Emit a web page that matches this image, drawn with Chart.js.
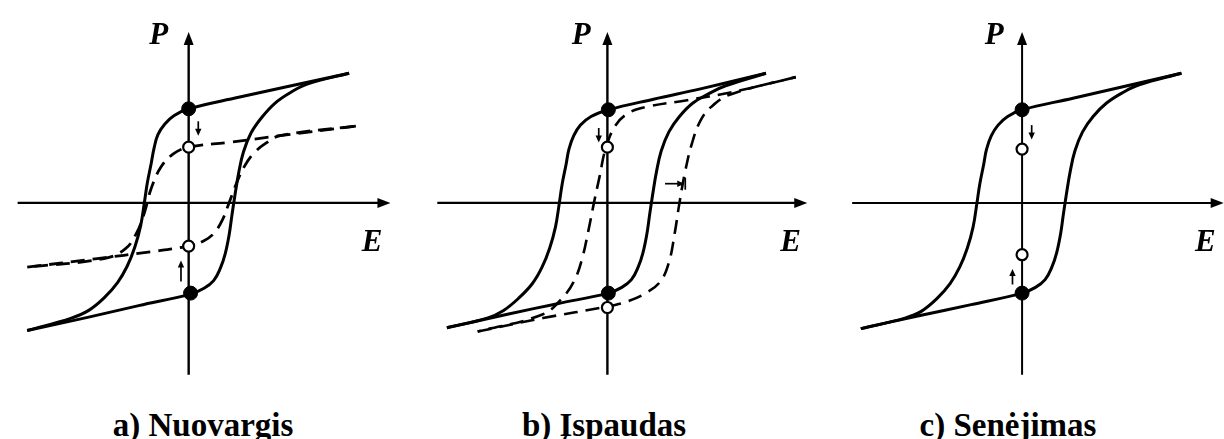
<!DOCTYPE html>
<html>
<head>
<meta charset="utf-8">
<script src="https://cdn.jsdelivr.net/npm/chart.js@4"></script>
<style>
  html, body { margin: 0; padding: 0; background: #fff; }
  #wrap { position: relative; width: 1224px; height: 439px; overflow: hidden; }
  #wrap canvas { position: absolute; top: 0; }
  .cap { position: absolute; top: 407px; line-height: 33px; font: bold 33px "Liberation Serif", "Times New Roman", serif; color: #000; white-space: nowrap; transform: translateX(-50%); }
</style>
</head>
<body>
<div id="wrap">
  <canvas id="pa" width="410" height="400" style="left:0px"></canvas>
  <canvas id="pb" width="410" height="400" style="left:412px"></canvas>
  <canvas id="pc" width="400" height="400" style="left:824px"></canvas>
  <div class="cap" id="cap-a" style="left:203px"></div>
  <div class="cap" id="cap-b" style="left:604px"></div>
  <div class="cap" id="cap-c" style="left:1008px"></div>
</div>
<script>
// P-E loops, [E, P] pairs; upper branches run from +E to -E, lower ones back
const captions = ['a) Nuovargis', 'b) Įspaudas', 'c) Senėjimas'];

// a) fatigue: original loop (solid) and the flattened loop (dashed)
const aSolidUpper = [[1.67,1.35],[1.02,1.21],[0.52,1.10],[0.00,0.98],[-0.15,0.91],[-0.25,0.82],[-0.32,0.71],[-0.36,0.57],[-0.39,0.41],[-0.43,0.21],[-0.46,0.01],[-0.50,-0.24],[-0.56,-0.46],[-0.64,-0.66],[-0.74,-0.83],[-0.88,-0.99],[-1.04,-1.12],[-1.22,-1.20],[-1.68,-1.33]];
const aSolidLower = [[-1.68,-1.33],[-1.04,-1.19],[-0.52,-1.07],[0.02,-0.95],[0.16,-0.89],[0.26,-0.81],[0.33,-0.68],[0.38,-0.53],[0.42,-0.34],[0.45,-0.13],[0.48,0.07],[0.52,0.31],[0.57,0.53],[0.65,0.73],[0.76,0.89],[0.90,1.04],[1.06,1.15],[1.24,1.24],[1.67,1.35]];
const aDashUpper = [[1.74,0.80],[0.95,0.70],[0.42,0.63],[0.00,0.58],[-0.16,0.51],[-0.29,0.37],[-0.39,0.15],[-0.46,-0.10],[-0.54,-0.31],[-0.66,-0.48],[-0.88,-0.58],[-1.68,-0.67]];
const aDashLower = [[-1.68,-0.67],[-0.95,-0.58],[-0.40,-0.51],[0.00,-0.45],[0.15,-0.40],[0.26,-0.32],[0.35,-0.18],[0.42,0.00],[0.50,0.21],[0.58,0.38],[0.68,0.52],[0.80,0.62],[0.95,0.70],[1.74,0.80]];
const aFilled = [[0.00,0.98],[0.02,-0.94]];
const aOpen = [[0.00,0.58],[0.00,-0.45]];

// b) imprint: loop shifted along E
const bSolidUpper = [[1.65,1.35],[0.98,1.19],[0.48,1.08],[0.01,0.97],[-0.17,0.90],[-0.28,0.81],[-0.35,0.70],[-0.40,0.56],[-0.43,0.40],[-0.47,0.20],[-0.50,0.00],[-0.54,-0.25],[-0.60,-0.47],[-0.68,-0.67],[-0.78,-0.84],[-0.92,-0.99],[-1.08,-1.12],[-1.25,-1.20],[-1.67,-1.30]];
const bSolidLower = [[-1.67,-1.30],[-1.04,-1.16],[-0.52,-1.05],[0.01,-0.94],[0.15,-0.88],[0.25,-0.80],[0.32,-0.67],[0.37,-0.52],[0.41,-0.33],[0.44,-0.12],[0.47,0.08],[0.51,0.32],[0.56,0.54],[0.64,0.74],[0.75,0.90],[0.89,1.04],[1.06,1.14],[1.23,1.22],[1.65,1.35]];
const bDashUpper = [[1.96,1.31],[1.28,1.15],[0.83,1.07],[0.41,1.00],[0.21,0.93],[0.08,0.80],[-0.02,0.56],[-0.08,0.28],[-0.14,0.00],[-0.20,-0.30],[-0.26,-0.57],[-0.34,-0.80],[-0.46,-0.98],[-0.67,-1.16],[-1.35,-1.34]];
const bDashLower = [[-1.35,-1.34],[-0.67,-1.20],[0.00,-1.08],[0.20,-1.03],[0.40,-0.94],[0.55,-0.82],[0.64,-0.62],[0.70,-0.32],[0.75,0.00],[0.81,0.33],[0.88,0.62],[0.97,0.86],[1.08,1.00],[1.28,1.13],[1.96,1.31]];
const bFilled = [[0.01,0.97],[0.01,-0.94]];
const bOpen = [[0.00,0.58],[0.00,-1.09]];

// c) aging: single loop, remanence points move inwards
const cSolidUpper = [[1.66,1.35],[1.05,1.21],[0.53,1.09],[0.00,0.97],[-0.15,0.90],[-0.25,0.81],[-0.32,0.70],[-0.37,0.56],[-0.40,0.40],[-0.44,0.20],[-0.47,0.00],[-0.51,-0.25],[-0.57,-0.47],[-0.65,-0.67],[-0.75,-0.84],[-0.89,-1.00],[-1.05,-1.13],[-1.22,-1.20],[-1.68,-1.31]];
const cSolidLower = [[-1.68,-1.31],[-1.05,-1.17],[-0.53,-1.06],[0.00,-0.94],[0.14,-0.88],[0.24,-0.80],[0.31,-0.67],[0.36,-0.52],[0.40,-0.33],[0.43,-0.12],[0.46,0.08],[0.50,0.32],[0.55,0.54],[0.63,0.74],[0.74,0.90],[0.88,1.04],[1.05,1.15],[1.22,1.23],[1.66,1.35]];
const cFilled = [[0.00,0.97],[0.00,-0.94]];
const cOpen = [[0.00,0.56],[0.00,-0.54]];

// small pointers: [E, P] start -> end
const aArrows = [{ from: [0.10,0.85], to: [0.10,0.70] }, { from: [-0.08,-0.82], to: [-0.08,-0.60] }];
const bArrows = [{ from: [-0.09,0.78], to: [-0.09,0.63] }, { from: [0.60,0.20], to: [0.80,0.20], bar: true }];
const cArrows = [{ from: [0.10,0.81], to: [0.10,0.66] }, { from: [-0.10,-0.85], to: [-0.10,-0.69] }];

const PX = 100; // pixels per unit

const panels = [
    { id: 'pa', left: 0, width: 410, ox: 188, oy: 203, solid: [aSolidUpper, aSolidLower], dashed: [aDashUpper, aDashLower], filled: aFilled, open: aOpen, arrows: aArrows, eAxis: [-1.78, 2.10], pAxis: [-1.79, 1.78], pLabel: [-0.41, 1.66], axisW: 2.4, dashW: 2.8 },
    { id: 'pb', left: 412, width: 410, ox: 607, oy: 203, solid: [bSolidUpper, bSolidLower], dashed: [bDashUpper, bDashLower], filled: bFilled, open: bOpen, arrows: bArrows, eAxis: [-1.77, 2.08], pAxis: [-1.79, 1.78], pLabel: [-0.37, 1.66], axisW: 2.4, dashW: 2.6 },
    { id: 'pc', left: 824, width: 400, ox: 1022, oy: 203, solid: [cSolidUpper, cSolidLower], dashed: [], filled: cFilled, open: cOpen, arrows: cArrows, eAxis: [-1.77, 2.10], pAxis: [-1.79, 1.78], pLabel: [-0.39, 1.66], axisW: 2.0, dashW: 2.6 }
];

const toXY = arr => arr.map(([x, y]) => ({ x, y }));

function head(ctx, tx, ty, ang, len, half) {
    const c = Math.cos(ang), s = Math.sin(ang);
    ctx.beginPath();
    ctx.moveTo(tx, ty);
    ctx.lineTo(tx - len * c + half * s, ty - len * s - half * c);
    ctx.lineTo(tx - len * c - half * s, ty - len * s + half * c);
    ctx.closePath();
    ctx.fill();
}

const axesPlugin = {
    id: 'peAxes',
    beforeDatasetsDraw(chart, args, opts) {
        const p = opts.panel;
        const { ctx, scales: { x, y } } = chart;
        const x0 = x.getPixelForValue(0), y0 = y.getPixelForValue(0);
        const xl = x.getPixelForValue(p.eAxis[0]), xr = x.getPixelForValue(p.eAxis[1]);
        const yb = y.getPixelForValue(p.pAxis[0]), yt = y.getPixelForValue(p.pAxis[1]);
        ctx.save();
        ctx.strokeStyle = '#000';
        ctx.fillStyle = '#000';
        ctx.lineWidth = p.axisW;
        ctx.beginPath();
        ctx.moveTo(xl, y0); ctx.lineTo(xr - 10, y0);
        ctx.moveTo(x0, yb); ctx.lineTo(x0, yt + 10);
        ctx.stroke();
        head(ctx, xr, y0, 0, 13, 5);
        head(ctx, x0, yt, -Math.PI / 2, 13, 5);
        ctx.restore();
    },
    afterDatasetsDraw(chart, args, opts) {
        const p = opts.panel;
        const { ctx, scales: { x, y } } = chart;
        ctx.save();
        ctx.strokeStyle = '#000';
        ctx.fillStyle = '#000';
        ctx.lineWidth = 1.7;
        p.arrows.forEach(a => {
            const x1 = x.getPixelForValue(a.from[0]), y1 = y.getPixelForValue(a.from[1]);
            const x2 = x.getPixelForValue(a.to[0]), y2 = y.getPixelForValue(a.to[1]);
            const ang = Math.atan2(y2 - y1, x2 - x1);
            ctx.beginPath();
            ctx.moveTo(x1, y1);
            ctx.lineTo(x2 - 6 * Math.cos(ang), y2 - 6 * Math.sin(ang));
            ctx.stroke();
            head(ctx, x2, y2, ang, 7, 3.2);
            if (a.bar) {
                ctx.beginPath();
                ctx.moveTo(x2 + 1, y2 - 6); ctx.lineTo(x2 + 1, y2 + 6);
                ctx.stroke();
            }
        });
        // axis letters
        ctx.font = 'italic bold 31px "Liberation Serif", "Times New Roman", serif';
        ctx.textBaseline = 'alphabetic';
        ctx.textAlign = 'left';
        ctx.fillText('P', x.getPixelForValue(p.pLabel[0]), y.getPixelForValue(p.pLabel[1]));
        ctx.fillText('E', x.getPixelForValue(1.80), y.getPixelForValue(-0.50));
        ctx.restore();
    }
};

function makePanel(p) {
    const canvas = document.getElementById(p.id);
    const h = canvas.height;
    const datasets = [
        { data: toXY(p.filled), showLine: false, pointRadius: 7, pointBackgroundColor: '#000', pointBorderColor: '#000', pointBorderWidth: 1, order: 0 },
        { data: toXY(p.open), showLine: false, pointRadius: 5.5, pointBackgroundColor: '#fff', pointBorderColor: '#000', pointBorderWidth: 2.2, order: 0 }
    ];
    p.solid.forEach(d => datasets.push({ data: toXY(d), showLine: true, borderColor: '#000', borderWidth: 3, pointRadius: 0, tension: 0.4, borderJoinStyle: 'round', order: 1 }));
    p.dashed.forEach(d => datasets.push({ data: toXY(d), showLine: true, borderColor: '#000', borderWidth: p.dashW, borderDash: [14, 8], pointRadius: 0, tension: 0.4, order: 1 }));

    return new Chart(canvas, {
        type: 'scatter',
        data: { datasets },
        options: {
            responsive: false,
            animation: false,
            events: [],
            layout: { padding: 0 },
            scales: {
                x: { type: 'linear', display: false, min: -(p.ox - p.left) / PX, max: (p.left + p.width - p.ox) / PX },
                y: { type: 'linear', display: false, min: -(h - p.oy) / PX, max: p.oy / PX }
            },
            plugins: { legend: { display: false }, tooltip: { enabled: false }, peAxes: { panel: p } }
        },
        plugins: [axesPlugin]
    });
}

document.addEventListener('DOMContentLoaded', () => {
    panels.forEach(makePanel);
    ['cap-a', 'cap-b', 'cap-c'].forEach((id, i) => { document.getElementById(id).textContent = captions[i]; });
});
</script>
</body>
</html>
